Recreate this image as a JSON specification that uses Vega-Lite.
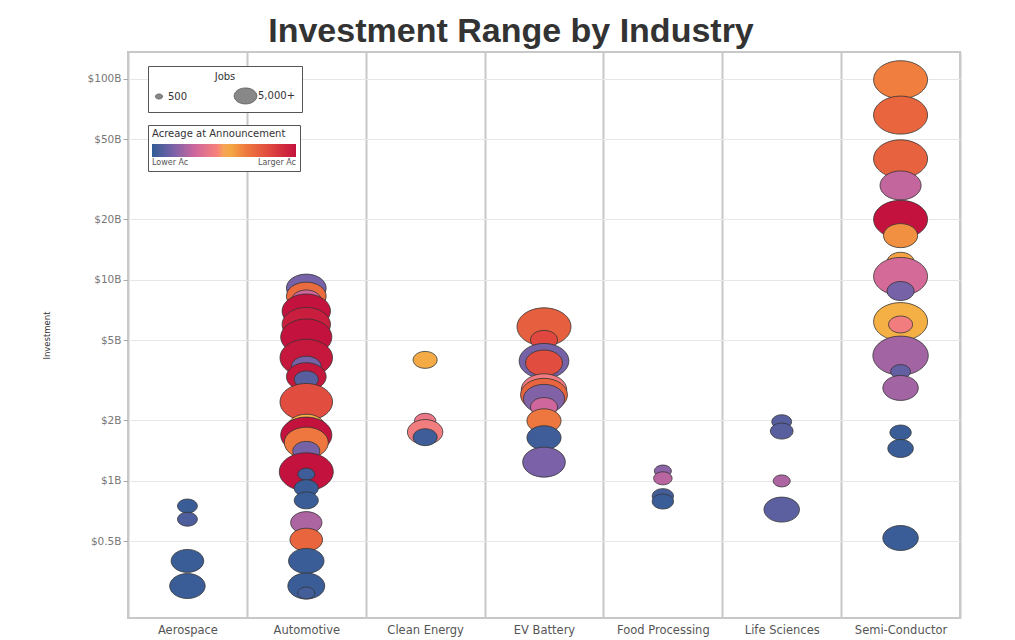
{
  "$schema": "https://vega.github.io/schema/vega-lite/v6.json",
  "autosize": {"type": "none"},
  "padding": {"left": 128, "top": 52, "right": 55, "bottom": 22},
  "width": 832,
  "height": 566,
  "background": "white",
  "title": {"text": "Investment Range by Industry", "fontSize": 34, "font": "Liberation Sans", "fontWeight": "bold", "color": "#333333", "anchor": "middle", "offset": 3, "dx": -33},
  "config": {
    "font": "DejaVu Sans",
    "view": {"stroke": "#c8c8c8", "strokeWidth": 2}
  },
  "data": {"values": [
    {"industry": "Aerospace", "investment": 0.75, "jobs": 3800, "acreage": 2},
    {"industry": "Aerospace", "investment": 0.645, "jobs": 3800, "acreage": 6},
    {"industry": "Aerospace", "investment": 0.40, "jobs": 10300, "acreage": 2},
    {"industry": "Aerospace", "investment": 0.30, "jobs": 12200, "acreage": 2},
    {"industry": "Automotive", "investment": 9.1, "jobs": 15300, "acreage": 14},
    {"industry": "Automotive", "investment": 8.3, "jobs": 15300, "acreage": 70},
    {"industry": "Automotive", "investment": 7.9, "jobs": 8600, "acreage": 30},
    {"industry": "Automotive", "investment": 7.0, "jobs": 22600, "acreage": 100},
    {"industry": "Automotive", "investment": 6.0, "jobs": 22600, "acreage": 96},
    {"industry": "Automotive", "investment": 5.2, "jobs": 25300, "acreage": 100},
    {"industry": "Automotive", "investment": 4.1, "jobs": 26700, "acreage": 98},
    {"industry": "Automotive", "investment": 3.7, "jobs": 8600, "acreage": 14},
    {"industry": "Automotive", "investment": 3.3, "jobs": 15300, "acreage": 98},
    {"industry": "Automotive", "investment": 3.2, "jobs": 5600, "acreage": 8},
    {"industry": "Automotive", "investment": 2.47, "jobs": 26700, "acreage": 80},
    {"industry": "Automotive", "investment": 1.84, "jobs": 14200, "acreage": 52},
    {"industry": "Automotive", "investment": 1.69, "jobs": 25300, "acreage": 100},
    {"industry": "Automotive", "investment": 1.55, "jobs": 18800, "acreage": 66},
    {"industry": "Automotive", "investment": 1.41, "jobs": 7100, "acreage": 14},
    {"industry": "Automotive", "investment": 1.11, "jobs": 28200, "acreage": 100},
    {"industry": "Automotive", "investment": 1.08, "jobs": 2800, "acreage": 3},
    {"industry": "Automotive", "investment": 0.92, "jobs": 5600, "acreage": 2},
    {"industry": "Automotive", "investment": 0.80, "jobs": 5600, "acreage": 2},
    {"industry": "Automotive", "investment": 0.62, "jobs": 9500, "acreage": 24},
    {"industry": "Automotive", "investment": 0.51, "jobs": 10300, "acreage": 72},
    {"industry": "Automotive", "investment": 0.40, "jobs": 12200, "acreage": 2},
    {"industry": "Automotive", "investment": 0.30, "jobs": 13200, "acreage": 2},
    {"industry": "Automotive", "investment": 0.277, "jobs": 2800, "acreage": 4},
    {"industry": "Clean Energy", "investment": 4.0, "jobs": 5600, "acreage": 54},
    {"industry": "Clean Energy", "investment": 1.99, "jobs": 4400, "acreage": 40},
    {"industry": "Clean Energy", "investment": 1.75, "jobs": 12200, "acreage": 43},
    {"industry": "Clean Energy", "investment": 1.65, "jobs": 5600, "acreage": 3},
    {"industry": "EV Battery", "investment": 5.84, "jobs": 28200, "acreage": 74},
    {"industry": "EV Battery", "investment": 5.03, "jobs": 7100, "acreage": 82},
    {"industry": "EV Battery", "investment": 3.95, "jobs": 23900, "acreage": 14},
    {"industry": "EV Battery", "investment": 3.86, "jobs": 13200, "acreage": 80},
    {"industry": "EV Battery", "investment": 2.84, "jobs": 20000, "acreage": 42},
    {"industry": "EV Battery", "investment": 2.68, "jobs": 21300, "acreage": 72},
    {"industry": "EV Battery", "investment": 2.56, "jobs": 16400, "acreage": 16},
    {"industry": "EV Battery", "investment": 2.33, "jobs": 7100, "acreage": 30},
    {"industry": "EV Battery", "investment": 1.99, "jobs": 11300, "acreage": 66},
    {"industry": "EV Battery", "investment": 1.64, "jobs": 11300, "acreage": 3},
    {"industry": "EV Battery", "investment": 1.24, "jobs": 17600, "acreage": 15},
    {"industry": "Food Processing", "investment": 1.12, "jobs": 2800, "acreage": 18},
    {"industry": "Food Processing", "investment": 1.03, "jobs": 3300, "acreage": 26},
    {"industry": "Food Processing", "investment": 0.84, "jobs": 4400, "acreage": 4},
    {"industry": "Food Processing", "investment": 0.79, "jobs": 4400, "acreage": 2},
    {"industry": "Life Sciences", "investment": 1.97, "jobs": 3800, "acreage": 8},
    {"industry": "Life Sciences", "investment": 1.77, "jobs": 5000, "acreage": 8},
    {"industry": "Life Sciences", "investment": 1.0, "jobs": 2800, "acreage": 24},
    {"industry": "Life Sciences", "investment": 0.72, "jobs": 12200, "acreage": 9},
    {"industry": "Semi-Conductor", "investment": 99, "jobs": 28200, "acreage": 64},
    {"industry": "Semi-Conductor", "investment": 66, "jobs": 28200, "acreage": 72},
    {"industry": "Semi-Conductor", "investment": 40, "jobs": 28200, "acreage": 73},
    {"industry": "Semi-Conductor", "investment": 29.5, "jobs": 16400, "acreage": 28},
    {"industry": "Semi-Conductor", "investment": 20, "jobs": 28200, "acreage": 100},
    {"industry": "Semi-Conductor", "investment": 16.6, "jobs": 11300, "acreage": 60},
    {"industry": "Semi-Conductor", "investment": 12.3, "jobs": 7100, "acreage": 56},
    {"industry": "Semi-Conductor", "investment": 10.4, "jobs": 28200, "acreage": 32},
    {"industry": "Semi-Conductor", "investment": 8.8, "jobs": 7100, "acreage": 14},
    {"industry": "Semi-Conductor", "investment": 6.2, "jobs": 28200, "acreage": 53},
    {"industry": "Semi-Conductor", "investment": 6.0, "jobs": 5600, "acreage": 43},
    {"industry": "Semi-Conductor", "investment": 4.2, "jobs": 29700, "acreage": 22},
    {"industry": "Semi-Conductor", "investment": 3.5, "jobs": 3800, "acreage": 10},
    {"industry": "Semi-Conductor", "investment": 2.9, "jobs": 12200, "acreage": 22},
    {"industry": "Semi-Conductor", "investment": 1.74, "jobs": 4400, "acreage": 2},
    {"industry": "Semi-Conductor", "investment": 1.45, "jobs": 6300, "acreage": 2},
    {"industry": "Semi-Conductor", "investment": 0.52, "jobs": 12200, "acreage": 2}
  ]},
  "mark": {
    "type": "point",
    "filled": true,
    "opacity": 1,
    "stroke": "#333333",
    "strokeWidth": 0.8,
    "shape": "M-1.42,0A1.42,1,0,1,1,1.42,0A1.42,1,0,1,1,-1.42,0Z"
  },
  "encoding": {
    "x": {
      "field": "industry",
      "type": "nominal",
      "scale": {"type": "band", "domain": ["Aerospace", "Automotive", "Clean Energy", "EV Battery", "Food Processing", "Life Sciences", "Semi-Conductor"], "paddingInner": 0, "paddingOuter": 0},
      "axis": {"title": null, "labelAngle": 0, "tickBand": "extent", "ticks": false, "grid": true, "gridColor": "#c8c8c8", "gridWidth": 2, "domain": false, "labelFontSize": 11.5, "labelColor": "#555555", "labelPadding": 6}
    },
    "y": {
      "field": "investment",
      "type": "quantitative",
      "scale": {"type": "log", "domain": [0.208, 136], "nice": false},
      "axis": {"title": "Investment", "titleFontWeight": "normal", "titleFontSize": 8.5, "titleColor": "#333333", "titlePadding": 36, "values": [0.5, 1, 2, 5, 10, 20, 50, 100], "labelExpr": "'$' + datum.value + 'B'", "labelFontSize": 10.5, "labelColor": "#777777", "tickColor": "#aaaaaa", "tickSize": 5, "labelPadding": 2, "domain": false, "gridColor": "#e6e6e6"}
    },
    "size": {
      "field": "jobs",
      "type": "quantitative",
      "scale": {"type": "linear", "domain": [0, 40000], "range": [0, 2048], "zero": true},
      "legend": {"title": "Jobs", "values": [500, 5000], "labelExpr": "datum.value >= 5000 ? '5,000+' : '500'", "orient": "none", "legendX": 20, "legendY": 14, "direction": "horizontal", "fillColor": "white", "strokeColor": "#555555", "padding": 6, "titleAnchor": "middle", "titleFontWeight": "normal", "titleFontSize": 10, "titleColor": "#333333", "labelFontSize": 10, "labelColor": "#333333", "symbolType": "M-1.42,0A1.42,1,0,1,1,1.42,0A1.42,1,0,1,1,-1.42,0Z", "symbolFillColor": "#888888", "symbolStrokeColor": "#555555", "symbolStrokeWidth": 0.8, "symbolOpacity": 1, "columnPadding": 44}
    },
    "color": {
      "field": "acreage",
      "type": "quantitative",
      "scale": {"type": "linear", "domain": [0, 15, 30, 45, 52, 65, 82, 100], "range": ["#305c95", "#7b62a8", "#cf679d", "#f7807a", "#f6b446", "#ee7a3e", "#df473f", "#c3123d"], "interpolate": "rgb"},
      "legend": {"title": "Acreage at Announcement", "values": [0, 100], "labelExpr": "datum.value == 0 ? 'Lower Ac' : 'Larger Ac'", "orient": "none", "legendX": 20, "legendY": 73, "direction": "horizontal", "gradientLength": 144, "gradientThickness": 13, "fillColor": "white", "strokeColor": "#555555", "padding": 4, "titleFontWeight": "normal", "titleFontSize": 10, "titleColor": "#333333", "labelFontSize": 8, "labelColor": "#555555"}
    },
    "order": {"field": "investment", "sort": "descending"}
  }
}
